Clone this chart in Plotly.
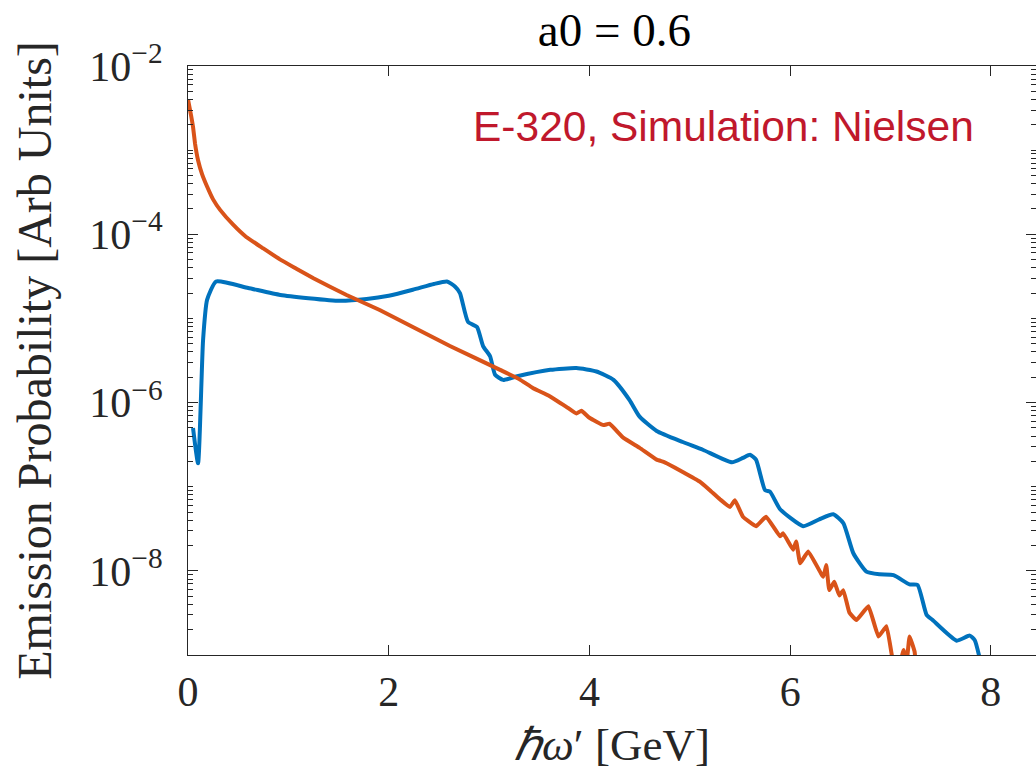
import plotly.graph_objects as go

# ---- data ----
blue_x = [0.05, 0.10, 0.15, 0.19, 0.28, 0.60, 0.92, 1.20, 1.51, 1.78, 2.00, 2.24, 2.45, 2.58,
          2.66, 2.71, 2.79, 2.88, 2.94, 3.01, 3.06, 3.14, 3.27, 3.61, 3.87, 4.07, 4.24, 4.40,
          4.50, 4.67, 4.93, 5.13, 5.42, 5.53, 5.60, 5.66, 5.75, 5.80, 5.90, 6.13, 6.29, 6.43,
          6.53, 6.63, 6.76, 6.89, 7.03, 7.19, 7.27, 7.36, 7.42, 7.66, 7.79, 7.84, 7.90]
blue_y = [5.0e-7, 1.9e-7, 5.5e-6, 1.66e-5, 2.75e-5, 2.3e-5, 1.9e-5, 1.74e-5, 1.62e-5, 1.70e-5,
          1.86e-5, 2.19e-5, 2.57e-5, 2.75e-5, 2.4e-5, 2.0e-5, 9.1e-6, 7.9e-6, 4.7e-6, 3.55e-6,
          2.14e-6, 1.86e-6, 2.04e-6, 2.45e-6, 2.57e-6, 2.34e-6, 1.86e-6, 1.07e-6, 6.8e-7, 4.6e-7,
          3.4e-7, 2.75e-7, 1.95e-7, 2.2e-7, 2.4e-7, 2.1e-7, 9.1e-8, 8.7e-8, 5.4e-8, 3.4e-8,
          4.1e-8, 4.7e-8, 3.7e-8, 1.62e-8, 9.8e-9, 9.1e-9, 8.9e-9, 6.9e-9, 6.8e-9, 3.0e-9,
          2.6e-9, 1.48e-9, 1.7e-9, 1.5e-9, 8.0e-10]

orange_x = [0.00, 0.03, 0.05, 0.07, 0.10, 0.14, 0.19, 0.25, 0.32, 0.45, 0.58, 0.75, 0.92, 1.08,
            1.25, 1.58, 1.91, 2.25, 2.61, 3.11, 3.30, 3.44, 3.60, 3.77, 3.87, 3.92, 4.00, 4.14,
            4.20, 4.34, 4.50, 4.67, 4.75, 4.93, 5.10, 5.20, 5.30, 5.40, 5.45, 5.53, 5.66, 5.76,
            5.90, 5.93, 6.03, 6.06, 6.10, 6.18, 6.33, 6.36, 6.39, 6.44, 6.49, 6.53, 6.59, 6.66,
            6.78, 6.88, 6.96, 7.01, 7.06, 7.13, 7.16, 7.19, 7.24, 7.26]
orange_y = [4.0e-3, 2.6e-3, 1.9e-3, 1.2e-3, 7.6e-4, 5.2e-4, 3.7e-4, 2.6e-4, 1.95e-4, 1.3e-4,
            9.3e-5, 6.8e-5, 5.0e-5, 3.9e-5, 3.0e-5, 1.9e-5, 1.26e-5, 7.8e-6, 4.7e-6, 2.45e-6,
            1.9e-6, 1.48e-6, 1.2e-6, 8.9e-7, 7.4e-7, 8.0e-7, 6.6e-7, 5.4e-7, 5.6e-7, 3.8e-7,
            2.9e-7, 2.1e-7, 1.95e-7, 1.5e-7, 1.15e-7, 9.1e-8, 7.1e-8, 5.75e-8, 6.9e-8, 4.4e-8,
            3.4e-8, 4.4e-8, 2.57e-8, 2.8e-8, 1.78e-8, 2.24e-8, 1.23e-8, 1.7e-8, 8.5e-9, 1.17e-8,
            5.9e-9, 7.4e-9, 5.1e-9, 5.9e-9, 3.2e-9, 2.6e-9, 3.8e-9, 1.66e-9, 2.2e-9, 1.05e-9,
            5.0e-10, 1.15e-9, 8.0e-10, 1.66e-9, 1.1e-9, 6.0e-10]

x_tick_vals = [0, 2, 4, 6, 8]
y_tick_vals = [1e-8, 1e-6, 1e-4, 1e-2]
y_tick_text = ["10<sup>−8</sup>", "10<sup>−6</sup>", "10<sup>−4</sup>", "10<sup>−2</sup>"]

SERIF = "Liberation Serif"
AXC = "#262626"

fig = go.Figure()
fig.add_trace(go.Scatter(x=blue_x, y=blue_y, mode="lines",
                         line=dict(color="#0072BD", width=4, shape="spline", smoothing=0.5),
                         showlegend=False))
fig.add_trace(go.Scatter(x=orange_x, y=orange_y, mode="lines",
                         line=dict(color="#D95319", width=4, shape="spline", smoothing=0.3),
                         showlegend=False))

fig.update_layout(
    width=1036, height=774,
    margin=dict(l=188, r=0, t=66, b=119),
    paper_bgcolor="white", plot_bgcolor="white",
    title=dict(text="a0 = 0.6", x=0.593, xanchor="center", y=0.962, yanchor="middle",
               font=dict(family=SERIF, size=47, color="black")),
    xaxis=dict(range=[0, 8.45], tickvals=x_tick_vals, ticktext=[str(v) for v in x_tick_vals],
               ticks="inside", ticklen=10, tickcolor=AXC, showline=True, linecolor=AXC,
               linewidth=1, mirror="ticks", showgrid=False, zeroline=False,
               tickfont=dict(family=SERIF, size=42, color=AXC),
               title=dict(text="<i>ℏω</i>′ [GeV]", font=dict(family=SERIF, size=45, color=AXC),
                          standoff=14)),
    yaxis=dict(type="log", range=[-9, -2], tickvals=y_tick_vals, ticktext=y_tick_text,
               ticks="inside", ticklen=10, tickcolor=AXC, showline=True, linecolor=AXC,
               linewidth=1, mirror="ticks", showgrid=False, zeroline=False,
               ticklabelstandoff=16,
               minor=dict(ticks="inside", ticklen=5, tickcolor=AXC, showgrid=False, dtick="D1"),
               tickfont=dict(family=SERIF, size=42, color=AXC),
               title=dict(text="Emission Probability [Arb Units]",
                          font=dict(family=SERIF, size=48, color=AXC), standoff=22)),
    annotations=[dict(text="E-320, Simulation: Nielsen", xref="paper", yref="paper",
                      x=0.334, y=0.897, xanchor="left", yanchor="middle", showarrow=False,
                      font=dict(family="Liberation Sans", size=42.5, color="#C0182C"))],
)

fig.write_html("out.html")
